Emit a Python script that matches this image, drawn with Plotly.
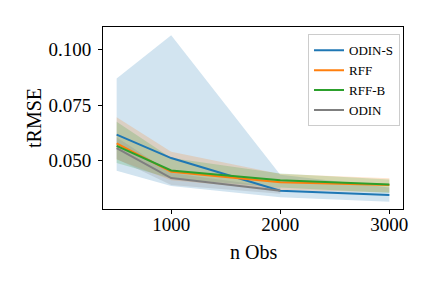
import plotly.graph_objects as go

x_obs = [500, 1000, 2000, 3000]
x_odin = [500, 1000, 2000]

odin_s_mean = [0.0617, 0.0512, 0.0365, 0.0346]
odin_s_low = [0.0455, 0.0386, 0.0336, 0.0316]
odin_s_high = [0.0870, 0.1064, 0.0437, 0.0380]

rff_mean = [0.0578, 0.0450, 0.0403, 0.0391]
rff_low = [0.0506, 0.0412, 0.0368, 0.0358]
rff_high = [0.0695, 0.0540, 0.0440, 0.0421]

rffb_mean = [0.0567, 0.0456, 0.0412, 0.0393]
rffb_low = [0.0490, 0.0420, 0.0380, 0.0355]
rffb_high = [0.0675, 0.0512, 0.0443, 0.0416]

odin_mean = [0.0557, 0.0422, 0.0365]
odin_low = [0.0508, 0.0391, 0.0352]
odin_high = [0.0605, 0.0445, 0.0378]

series = [
    ("ODIN-S", x_obs, odin_s_mean, odin_s_low, odin_s_high, "#1f77b4", "rgba(31,119,180,0.2)"),
    ("RFF", x_obs, rff_mean, rff_low, rff_high, "#ff7f0e", "rgba(255,127,14,0.2)"),
    ("RFF-B", x_obs, rffb_mean, rffb_low, rffb_high, "#2ca02c", "rgba(44,160,44,0.2)"),
    ("ODIN", x_odin, odin_mean, odin_low, odin_high, "#7f7f7f", "rgba(127,127,127,0.2)"),
]

fig = go.Figure()
for name, xs, m, lo, hi, col, fcol in series:
    fig.add_trace(go.Scatter(x=xs, y=hi, mode="lines", line=dict(width=0), showlegend=False, hoverinfo="skip"))
    fig.add_trace(go.Scatter(x=xs, y=lo, mode="lines", line=dict(width=0), fill="tonexty",
                             fillcolor=fcol, showlegend=False, hoverinfo="skip"))
for name, xs, m, lo, hi, col, fcol in series:
    fig.add_trace(go.Scatter(x=xs, y=m, mode="lines", name=name, line=dict(color=col, width=2)))

font_family = "Liberation Serif, DejaVu Serif, serif"
fig.update_layout(
    width=432, height=288,
    margin=dict(l=95, r=37, t=19, b=87),
    paper_bgcolor="white", plot_bgcolor="white",
    font=dict(family=font_family, size=19, color="black"),
    legend=dict(x=0.99, y=0.96, xanchor="right", yanchor="top", traceorder="normal",
                bgcolor="rgba(255,255,255,0.8)", bordercolor="#cccccc", borderwidth=1,
                font=dict(size=13, family=font_family), itemwidth=30, tracegroupgap=0),
    showlegend=True,
    annotations=[
        dict(text="n Obs", xref="paper", yref="paper", x=0.5, y=0, xanchor="center", yanchor="middle",
             yshift=-43, showarrow=False, font=dict(size=20)),
        dict(text="tRMSE", xref="paper", yref="paper", x=0, y=0.5, xanchor="center", yanchor="middle",
             xshift=-69, textangle=-90, showarrow=False, font=dict(size=20)),
    ],
)
fig.update_xaxes(range=[375, 3125], tickvals=[1000, 2000, 3000], ticktext=["1000", "2000", "3000"],
                 ticks="outside", ticklen=4, tickcolor="black", showgrid=False, zeroline=False,
                 showline=True, linecolor="black", linewidth=1, mirror=True, automargin=False,
                 ticklabelstandoff=-6)
fig.update_yaxes(range=[0.0283, 0.1101], tickvals=[0.05, 0.075, 0.1], ticktext=["0.050", "0.075", "0.100"],
                 ticks="outside", ticklen=4, tickcolor="black", showgrid=False, zeroline=False,
                 showline=True, linecolor="black", linewidth=1, mirror=True, automargin=False,
                 ticklabelstandoff=3)

fig.write_html("out.html")
